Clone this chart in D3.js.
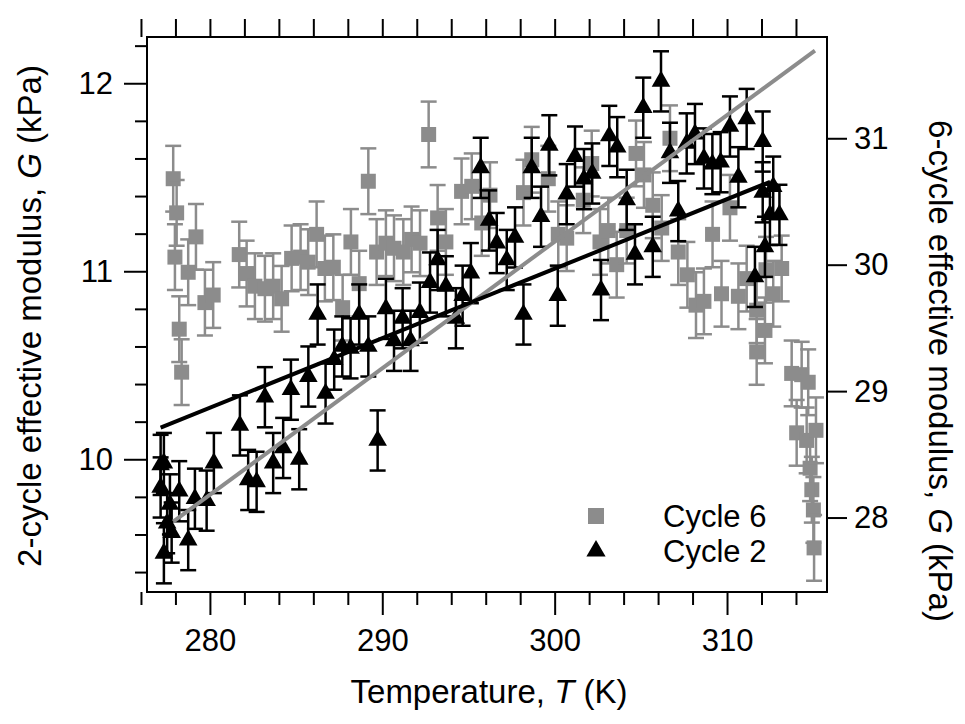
<!DOCTYPE html>
<html>
<head>
<meta charset="utf-8">
<script src="https://cdn.jsdelivr.net/npm/d3@7"></script>
<style>
  body { margin: 0; background: white; }
  text { font-family: "Liberation Sans", Arial, sans-serif; }
</style>
</head>
<body>
<div id="container"></div>
<script>
let w = 965;
let h = 724;

// cycle 2 (left axis)
let c2Temp = [277.14, 277.33, 277.14, 277.68, 277.52, 277.78, 277.33, 278.22, 278.74, 279.13,
  279.81, 280.23, 281.74, 282.22, 282.71, 283.19, 283.67, 284.25, 284.70, 285.18,
  285.71, 286.25, 286.71, 287.21, 287.68, 288.16, 288.66, 289.19, 289.73, 290.21,
  290.68, 291.18, 291.64, 292.18, 292.77, 293.21, 293.69, 294.27, 294.66, 295.14,
  295.71, 296.20, 296.64, 297.22, 297.70, 298.19, 298.67, 299.21, 299.69, 300.18,
  300.70, 301.18, 301.70, 302.18, 302.69, 303.17, 303.63, 304.18, 304.66, 305.14,
  305.69, 306.17, 306.69, 307.17, 307.66, 308.14, 308.66, 309.15, 309.63, 310.17,
  310.66, 311.14, 311.62, 312.07, 312.07, 312.20, 312.49, 312.68, 313.04];
let c2Mod = [9.97, 9.98, 9.85, 9.76, 9.66, 9.61, 9.50, 9.83, 9.57, 9.79,
  9.78, 9.98, 10.18, 9.89, 9.88, 10.33, 9.98, 10.06, 10.37, 10.00,
  10.44, 10.77, 10.35, 10.53, 10.60, 10.59, 10.77, 10.60, 10.10, 10.80,
  10.63, 10.75, 10.63, 10.78, 10.94, 11.06, 10.92, 10.75, 10.87, 10.99,
  11.55, 11.27, 11.15, 11.06, 11.18, 10.77, 11.55, 11.29, 11.67, 10.87,
  11.41, 11.61, 11.49, 11.52, 10.90, 11.72, 11.66, 11.38, 11.09, 11.87,
  11.13, 12.01, 11.63, 11.32, 11.68, 11.73, 11.60, 11.57, 11.58, 11.77,
  11.50, 11.81, 10.97, 11.69, 11.42, 11.13, 11.30, 11.45, 11.30];
let c2Err = 0.16;

// cycle 6 (right axis)
let c6Temp = [277.87, 277.97, 278.07, 278.22, 278.36, 278.74, 279.19, 279.71, 280.19, 281.70,
  282.13, 282.61, 283.19, 283.67, 284.16, 284.74, 285.26, 285.70, 286.19, 286.67,
  287.16, 287.70, 288.18, 288.66, 289.19, 289.67, 290.21, 290.68, 291.22, 291.70,
  292.19, 292.69, 293.21, 293.69, 294.60, 295.19, 295.77, 296.25, 298.19, 298.67,
  299.63, 300.21, 300.70, 301.66, 302.15, 302.63, 303.11, 303.60, 304.18, 304.72,
  305.18, 305.69, 306.21, 306.69, 307.17, 307.70, 308.20, 308.66, 309.16, 309.68,
  310.17, 310.66, 311.14, 311.72, 311.72, 312.20, 312.26, 312.68, 313.17, 313.75,
  314.04, 314.33, 314.62, 314.71, 314.82, 314.92, 315.01, 315.05, 315.16];
let c6Mod = [30.68, 30.06, 30.41, 29.49, 29.15, 29.94, 30.22, 29.70, 29.76, 30.08,
  29.93, 29.83, 29.81, 29.83, 29.73, 30.05, 30.06, 30.02, 30.24, 29.97,
  29.98, 29.66, 30.18, 29.85, 30.66, 30.10, 30.17, 30.13, 30.10, 30.20,
  30.17, 31.03, 30.37, 30.18, 30.58, 30.62, 30.33, 30.55, 30.57, 30.83,
  30.68, 30.24, 30.21, 30.51, 30.80, 30.18, 30.27, 30.00, 30.27, 30.88,
  30.71, 30.47, 30.29, 31.00, 30.10, 29.92, 29.68, 29.71, 30.24, 29.77,
  30.45, 29.75, 29.89, 29.64, 29.31, 29.48, 29.96, 29.77, 29.97, 29.14,
  28.67, 29.13, 28.61, 29.07, 28.39, 28.22, 28.06, 27.76, 28.69];
let c6Err = 0.26;

// straight fits: [T, G]
let fit2 = [[277.14, 10.168], [312.5, 11.476]];       // left axis
let fit6 = [[277.87, 27.967], [315.1, 31.693]];       // right axis

let xMajor = [280, 290, 300, 310];
let xMinor = [276, 278, 282, 284, 286, 288, 292, 294, 296, 298, 302, 304, 306, 308, 312, 314];
let xTop = [276, 278, 280, 282, 284, 286, 288, 290, 292, 294, 296, 298, 300, 302, 304, 306, 308, 310, 312, 314];
let leftMajor = [10, 11, 12];
let leftMinor = [9.4, 9.6, 9.8, 10.2, 10.4, 10.6, 10.8, 11.2, 11.4, 11.6, 11.8, 12.2];
let rightMajor = [28, 29, 30, 31];
let legendNames = ["Cycle 6", "Cycle 2"];

let grey = "#8c8c8c";
let plotL = 147, plotR = 827, plotT = 37, plotB = 592;
let tickFont = 31, titleFont = 33;

let viz = d3.select("#container")
  .append("svg")
    .attr("width", w)
    .attr("height", h)
    .style("background-color", "white")
;

let xScale = d3.scaleLinear().domain([276.35, 315.8]).range([plotL, plotR]);
let yLeft = d3.scaleLinear().domain([9.294, 12.246]).range([plotB, plotT]);
let yRight = d3.scaleLinear().domain([27.411, 31.801]).range([plotB, plotT]);

function styleAxis(g){
  g.select(".domain").remove();
  g.selectAll("line").attr("stroke", "black").attr("stroke-width", 2);
  g.selectAll("text").attr("font-size", tickFont).attr("fill", "black")
    .style("font-family", "'Liberation Sans', Arial, sans-serif");
}

// axes
viz.append("g").attr("transform", "translate(0," + plotB + ")")
  .call(d3.axisBottom(xScale).tickValues(xMinor).tickSize(13).tickFormat(""))
  .call(styleAxis);
viz.append("g").attr("transform", "translate(0," + plotB + ")")
  .call(d3.axisBottom(xScale).tickValues(xMajor).tickSize(23).tickPadding(14).tickFormat(d3.format("d")))
  .call(styleAxis);
viz.append("g").attr("transform", "translate(0," + plotT + ")")
  .call(d3.axisTop(xScale).tickValues(xTop).tickSize(18).tickFormat(""))
  .call(styleAxis);
viz.append("g").attr("transform", "translate(" + plotL + ",0)")
  .call(d3.axisLeft(yLeft).tickValues(leftMinor).tickSize(12).tickFormat(""))
  .call(styleAxis);
viz.append("g").attr("transform", "translate(" + plotL + ",0)")
  .call(d3.axisLeft(yLeft).tickValues(leftMajor).tickSize(23).tickPadding(11).tickFormat(d3.format("d")))
  .call(styleAxis);
viz.append("g").attr("transform", "translate(" + plotR + ",0)")
  .call(d3.axisRight(yRight).tickValues(rightMajor).tickSize(20).tickPadding(7).tickFormat(d3.format("d")))
  .call(styleAxis);

viz.append("rect")
  .attr("x", plotL).attr("y", plotT)
  .attr("width", plotR - plotL).attr("height", plotB - plotT)
  .attr("fill", "none").attr("stroke", "black").attr("stroke-width", 2);

// titles
let lt = viz.append("text")
  .attr("transform", "translate(41,316) rotate(-90)")
  .attr("text-anchor", "middle").attr("font-size", titleFont);
lt.append("tspan").text("2-cycle effective modulus, ");
lt.append("tspan").attr("font-style", "italic").text("G");
lt.append("tspan").text(" (kPa)");

let rt = viz.append("text")
  .attr("transform", "translate(929,371) rotate(90)")
  .attr("text-anchor", "middle").attr("font-size", titleFont);
rt.append("tspan").text("6-cycle effective modulus, ");
rt.append("tspan").attr("font-style", "italic").text("G");
rt.append("tspan").text(" (kPa)");

let bt = viz.append("text")
  .attr("x", (plotL + plotR) / 2 + 2).attr("y", 703)
  .attr("text-anchor", "middle").attr("font-size", titleFont);
bt.append("tspan").text("Temperature, ");
bt.append("tspan").attr("font-style", "italic").text("T");
bt.append("tspan").text(" (K)");

// data
let data6 = c6Temp.map(function(t, i){ return {t: t, g: c6Mod[i], e: c6Err}; });
let data2 = c2Temp.map(function(t, i){ return {t: t, g: c2Mod[i], e: c2Err}; });

function drawSeries(data, yScale, color, shape, size){
  let groups = viz.append("g").selectAll("g").data(data).enter()
    .append("g")
      .attr("transform", function(d){ return "translate(" + xScale(d.t) + ",0)"; });
  groups.append("line")
    .attr("x1", 0).attr("x2", 0)
    .attr("y1", function(d){ return yScale(d.g - d.e); })
    .attr("y2", function(d){ return yScale(d.g + d.e); })
    .attr("stroke", color).attr("stroke-width", 2.5);
  groups.append("line")
    .attr("x1", -8).attr("x2", 8)
    .attr("y1", function(d){ return yScale(d.g + d.e); })
    .attr("y2", function(d){ return yScale(d.g + d.e); })
    .attr("stroke", color).attr("stroke-width", 2.5);
  groups.append("line")
    .attr("x1", -8).attr("x2", 8)
    .attr("y1", function(d){ return yScale(d.g - d.e); })
    .attr("y2", function(d){ return yScale(d.g - d.e); })
    .attr("stroke", color).attr("stroke-width", 2.5);
  groups.append("path")
    .attr("d", d3.symbol().type(shape).size(size))
    .attr("transform", function(d){ return "translate(0," + yScale(d.g) + ")"; })
    .attr("fill", color);
}

drawSeries(data6, yRight, grey, d3.symbolSquare, 225);
drawSeries(data2, yLeft, "black", d3.symbolTriangle, 150);

// fit lines
viz.append("path")
  .datum(fit6)
  .attr("d", d3.line().x(function(d){ return xScale(d[0]); }).y(function(d){ return yRight(d[1]); }))
  .attr("stroke", grey).attr("stroke-width", 4).attr("fill", "none");
viz.append("path")
  .datum(fit2)
  .attr("d", d3.line().x(function(d){ return xScale(d[0]); }).y(function(d){ return yLeft(d[1]); }))
  .attr("stroke", "black").attr("stroke-width", 4).attr("fill", "none");

// legend
let legend = viz.append("g").selectAll("g").data(legendNames).enter()
  .append("g")
    .attr("transform", function(d, i){ return "translate(596," + (516 + i * 35) + ")"; });
legend.append("path")
  .attr("d", function(d, i){ return d3.symbol().type(i == 0 ? d3.symbolSquare : d3.symbolTriangle).size(i == 0 ? 256 : 160)(); })
  .attr("fill", function(d, i){ return i == 0 ? grey : "black"; });
legend.append("text")
  .attr("x", 67).attr("y", 11)
  .attr("font-size", tickFont)
  .text(function(d){ return d; });
</script>
</body>
</html>
